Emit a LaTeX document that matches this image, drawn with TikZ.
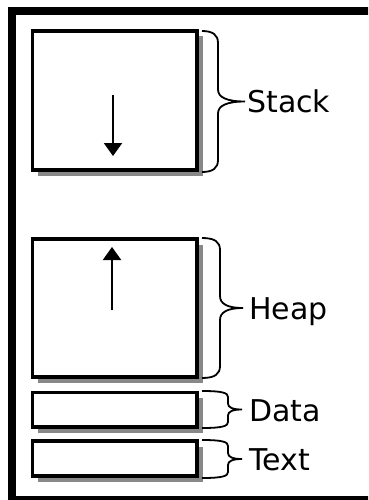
\documentclass[tikz,border=0pt]{standalone}
\usepackage{fontspec}
\setmainfont{DejaVu Sans}
\usetikzlibrary{arrows.meta,shadows}
\definecolor{shadowgray}{RGB}{136,136,136}
\newcommand{\membrace}[6]{%
  \pgfmathsetmacro{\bym}{(#2+#3)/2}%
  \pgfmathsetmacro{\bdx}{(#5-#4)/3}%
  \draw[bracestyle] (#1,#2) .. controls ({#4-5},#2) and (#4,{#2+#6/3}) .. (#4,{#2+#6})
    -- (#4,{\bym-#6}) .. controls (#4,{\bym-#6/3}) and ({#4+\bdx},\bym) .. (#5,\bym)
    .. controls ({#4+\bdx},\bym) and (#4,{\bym+#6/3}) .. (#4,{\bym+#6})
    -- (#4,{#3-#6}) .. controls (#4,{#3-#6/3}) and ({#4-5},#3) .. (#1,#3);%
}
\begin{document}
\begin{tikzpicture}[x=1pt,y=-1pt,
  membox/.style={draw,line width=3.5pt,fill=white,inner sep=0pt,minimum width=164.5pt,
    drop shadow={shadow xshift=5.5pt,shadow yshift=-5.5pt,fill=shadowgray,opacity=1}},
  bracestyle/.style={line width=1.8pt},
  lbl/.style={anchor=base west,inner sep=0pt,font=\fontsize{30}{36}\selectfont},
  growarrow/.style={line width=2pt,-{Triangle[length=13pt,width=18pt]}}]
\useasboundingbox (0,0) rectangle (368,500);
\clip (0,0) rectangle (368,500);
\draw[line width=8pt] (12,11) rectangle (390,500);
% boxes
\node[membox,minimum height=139pt] (stack) at (114.75,100.5) {};
\node[membox,minimum height=138pt] (heap) at (114.75,308) {};
\node[membox,minimum height=34.5pt] (data) at (114.75,409.75) {};
\node[membox,minimum height=35pt] (text) at (114.75,458.5) {};
% arrows
\coordinate (sa1) at (113,95);
\coordinate (sa2) at (113,156);
\coordinate (ha1) at (112,310);
\coordinate (ha2) at (112,247);
\draw[growarrow] (sa1) -- (sa2);
\draw[growarrow] (ha1) -- (ha2);
% braces
\membrace{202}{31}{172}{218}{245}{12}
\membrace{202}{238}{378}{220}{243}{12}
\membrace{202}{391}{428}{228}{242}{6}
\membrace{202}{440}{478}{228}{242}{6}
% labels
\node[lbl] (lstack) at (247,113) {Stack};
\node[lbl] (lheap) at (249,319.5) {Heap};
\node[lbl] (ldata) at (249,421) {Data};
\node[lbl] (ltext) at (249,470.5) {Text};
\end{tikzpicture}
\end{document}
